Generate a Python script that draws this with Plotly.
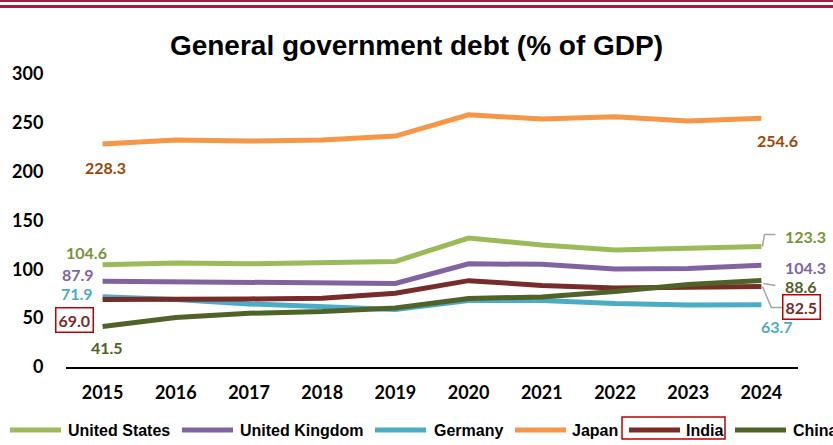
import plotly.graph_objects as go

years = [2015, 2016, 2017, 2018, 2019, 2020, 2021, 2022, 2023, 2024]
united_states = [104.6, 106.6, 105.6, 106.8, 108.1, 132.0, 124.9, 119.8, 121.4, 123.3]
united_kingdom = [87.9, 87.2, 86.3, 85.8, 85.5, 105.6, 105.1, 100.4, 100.9, 104.3]
germany = [71.9, 69.0, 64.6, 61.3, 58.9, 68.0, 68.1, 65.0, 63.6, 63.7]
japan = [228.3, 232.4, 231.3, 232.4, 236.4, 258.3, 253.9, 256.2, 251.9, 254.6]
india = [69.0, 68.9, 69.7, 70.4, 75.6, 88.4, 83.5, 81.0, 81.9, 82.5]
china = [41.5, 50.7, 55.0, 56.7, 60.4, 70.1, 71.8, 77.4, 84.4, 88.6]

names = ["United States", "United Kingdom", "Germany", "Japan", "India", "China"]
series = [united_states, united_kingdom, germany, japan, india, china]
colors = ["#9BBB59", "#8064A2", "#4BACC6", "#F79646", "#772C2A", "#4F6228"]
label_colors = ["#77933C", "#8064A2", "#4BACC6", "#984807", "#772C2A", "#4F6228"]

W, H = 833, 445
L, R, T, B = 66, 35, 74, 78
PW, PH = W - L - R, H - T - B

def px_x(px):
    return (px - L) / PW

def px_y(py):
    return (H - B - py) / PH

fig = go.Figure()
for n, s, c in zip(names, series, colors):
    fig.add_trace(go.Scatter(x=years, y=s, name=n, mode="lines",
                             line=dict(color=c, width=5),
                             showlegend=False, hoverinfo="skip"))

label_font = "Lato, 'Open Sans', sans-serif"
# (series index, year index, xshift, yshift, boxed)
labels = [
    (3, 0, 3, -23, False),
    (0, 0, -16, 12, False),
    (1, 0, -25, 7, False),
    (2, 0, -26, 3, False),
    (4, 0, -28, -20, True),
    (5, 0, 4, -21, False),
    (3, 9, 16, -22, False),
    (0, 9, 44, 10, False),
    (1, 9, 44, -2, False),
    (5, 9, 40, -6, False),
    (4, 9, 40, -21, True),
    (2, 9, 16, -22, False),
]
for si, yi, xs, ys, boxed in labels:
    v = series[si][yi]
    ann = dict(x=years[yi], y=v, xref="x", yref="y", text=f"{v:.1f}",
               showarrow=False, xshift=xs, yshift=ys,
               xanchor="center", yanchor="middle",
               font=dict(family=label_font, size=16, color=label_colors[si], weight="bold"))
    if boxed:
        ann.update(bordercolor="#C00000", borderwidth=1.5, borderpad=2)
    fig.add_annotation(**ann)

# leader lines (pixel offsets from the data point)
leaders = [
    (0, 9, "M1,0 L3,12 L14,12"),
    (5, 9, "M2,-3 L14,-5"),
    (4, 9, "M1,0 L10,-21 L21,-21"),
]
for si, yi, path in leaders:
    fig.add_shape(type="path", xref="x", yref="y", xsizemode="pixel", ysizemode="pixel",
                  xanchor=years[yi], yanchor=series[si][yi], path=path,
                  line=dict(color="#A6A6A6", width=1.5))

# top decorative bands
for y0, y1 in [(0, 2), (5, 8)]:
    fig.add_shape(type="rect", xref="paper", yref="paper",
                  x0=px_x(0), x1=px_x(W), y0=px_y(y1), y1=px_y(y0),
                  line=dict(width=0), fillcolor="#A91B42", layer="above")

# manual legend
leg_line_x = [8, 180, 373, 513, 627, 733]
leg_text_x = [66, 238, 432, 570, 684, 791]
leg_y = 430
for n, c, lx, tx in zip(names, colors, leg_line_x, leg_text_x):
    fig.add_shape(type="line", xref="paper", yref="paper",
                  x0=px_x(lx + 2), x1=px_x(lx + 53), y0=px_y(leg_y), y1=px_y(leg_y),
                  line=dict(color=c, width=5))
    fig.add_annotation(x=px_x(tx), y=px_y(leg_y), xref="paper", yref="paper",
                       text=n, showarrow=False, xanchor="left", yanchor="middle",
                       font=dict(family="'Liberation Sans', Arial, sans-serif", size=16,
                                 color="#000000", weight="bold"))
# India legend box
fig.add_shape(type="rect", xref="paper", yref="paper",
              x0=px_x(622), x1=px_x(725), y0=px_y(439), y1=px_y(417),
              line=dict(color="#C00000", width=1.5))

fig.update_layout(
    width=W, height=H,
    margin=dict(l=L, r=R, t=T, b=B),
    paper_bgcolor="white", plot_bgcolor="white",
    title=dict(text="General government debt (% of GDP)", x=0.5, xanchor="center",
               y=1 - 45 / H, yanchor="middle",
               font=dict(family="'Liberation Sans', Arial, sans-serif", size=28,
                         color="#000000", weight="bold")),
    xaxis=dict(range=[years[0] - 0.5, years[-1] + 0.5], tickvals=years,
               ticktext=[str(y) for y in years], showgrid=False, zeroline=False,
               showline=True, linecolor="#000000", linewidth=2,
               ticks="outside", ticklen=8, tickcolor="rgba(0,0,0,0)",
               tickfont=dict(family=label_font, size=18, color="#000000", weight="bold")),
    yaxis=dict(range=[0, 300], dtick=50, showgrid=False, zeroline=False, showline=False,
               ticks="outside", ticklen=18, tickcolor="rgba(0,0,0,0)",
               tickfont=dict(family=label_font, size=18, color="#000000", weight="bold")),
    showlegend=False,
)

fig.write_html("out.html", config={"displayModeBar": False},
               post_script="document.body.style.margin='0px';")
